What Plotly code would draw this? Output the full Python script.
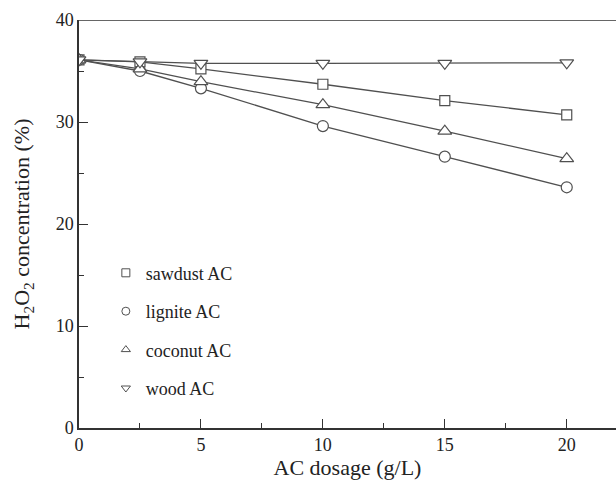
import plotly.graph_objects as go

dosage = [0, 2.5, 5, 10, 15, 20]
sawdust = [36.1, 35.9, 35.2, 33.7, 32.1, 30.7]
lignite = [36.1, 35.0, 33.3, 29.6, 26.6, 23.6]
coconut = [36.1, 35.2, 33.95, 31.7, 29.1, 26.4]
wood = [36.1, 35.9, 35.75, 35.75, 35.75, 35.8]

names = ["sawdust AC", "lignite AC", "coconut AC", "wood AC"]
symbols = ["square-open", "circle-open", "triangle-up-open", "triangle-down-open"]
sizes = [10, 11, 12, 12]
series = [sawdust, lignite, coconut, wood]

LC = "#505050"
FONT = "Liberation Serif"

fig = go.Figure()
for name, sym, sz, ys in zip(names, symbols, sizes, series):
    fig.add_trace(go.Scatter(
        x=dosage, y=ys, mode="lines+markers", showlegend=False,
        line=dict(color=LC, width=1.3),
        marker=dict(symbol=sym.replace("-open", ""), size=sz, color="white",
                    line=dict(color=LC, width=1.2)),
    ))
for i, (name, sym) in enumerate(zip(names, symbols)):
    fig.add_trace(go.Scatter(
        x=[None], y=[None], mode="markers", name=name, legendgroup=str(i),
        marker=dict(symbol=sym, size=8, color=LC, line=dict(color=LC, width=1)),
    ))

fig.add_shape(type="line", xref="paper", yref="y", x0=0, x1=1, y0=40, y1=40,
              line=dict(color="#333", width=1.5))

fig.update_layout(
    width=616, height=481,
    margin=dict(l=79, r=0, t=20, b=53),
    paper_bgcolor="white", plot_bgcolor="white",
    font=dict(family=FONT, size=16, color="#222"),
    showlegend=True,
    legend=dict(x=0.05, y=0.425, xanchor="left", yanchor="top",
                traceorder="grouped", tracegroupgap=12,
                font=dict(family=FONT, size=18, color="#222"),
                bgcolor="rgba(0,0,0,0)"),
    xaxis=dict(range=[0, 22.02], tickvals=[0, 5, 10, 15, 20],
               ticks="inside", ticklen=9, tickwidth=1.2, tickcolor="#333",
               minor=dict(dtick=2.5, tick0=0, ticks="inside", ticklen=5, tickcolor="#333"),
               showline=True, linecolor="#333", linewidth=1.5,
               showgrid=False, zeroline=False,
               tickfont=dict(family=FONT, size=18),
               title=dict(text="AC dosage (g/L)", font=dict(family=FONT, size=22), standoff=2)),
    yaxis=dict(range=[0, 40], tickvals=[0, 10, 20, 30, 40],
               ticks="inside", ticklen=9, tickwidth=1.2, tickcolor="#333",
               minor=dict(dtick=5, tick0=0, ticks="inside", ticklen=5, tickcolor="#333"),
               showline=True, linecolor="#333", linewidth=1.5,
               showgrid=False, zeroline=False,
               tickfont=dict(family=FONT, size=18),
               title=dict(text="H<sub>2</sub>O<sub>2</sub> concentration (%)",
                          font=dict(family=FONT, size=22), standoff=20)),
)
fig.write_html("out.html")
